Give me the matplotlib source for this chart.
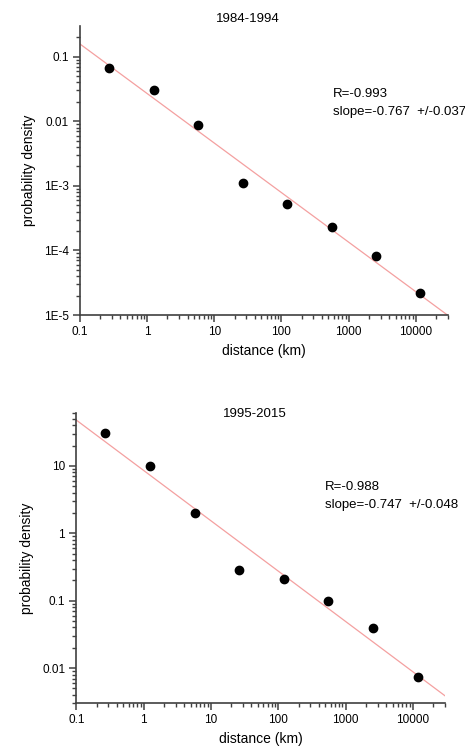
import numpy as np
import matplotlib
matplotlib.use('Agg')
import matplotlib.pyplot as plt
from matplotlib.ticker import FixedLocator, FixedFormatter, NullFormatter

plt.rcParams['font.family'] = ['Liberation Sans', 'DejaVu Sans']

# data
dist = [0.27, 1.26, 5.8, 26.5, 121, 557, 2570, 11750]
dens_a = [0.066, 0.031, 0.0087, 1.09e-3, 5.2e-4, 2.27e-4, 8.3e-5, 2.16e-5]
dens_b = [30.5, 9.8, 1.98, 0.29, 0.21, 0.099, 0.039, 0.0074]

# fitted lines: log10(y) = icpt + slope*log10(x)
slope_a, icpt_a = -0.767, -1.57
slope_b, icpt_b = -0.747, 0.933

titles = ['1984-1994', '1995-2015']
notes = [('R=-0.993', 'slope=-0.767  +/-0.037'),
         ('R=-0.988', 'slope=-0.747  +/-0.048')]

xticks = [0.1, 1, 10, 100, 1000, 10000]
xlabels = ['0.1', '1', '10', '100', '1000', '10000']
yticks_a = [1e-5, 1e-4, 1e-3, 0.01, 0.1]
ylabels_a = ['1E-5', '1E-4', '1E-3', '0.01', '0.1']
yticks_b = [0.01, 0.1, 1, 10]
ylabels_b = ['0.01', '0.1', '1', '10']


def minor_ticks(lo, hi):
    out = []
    for e in range(int(np.floor(np.log10(lo))), int(np.ceil(np.log10(hi))) + 1):
        for m in range(2, 10):
            v = m * 10.0 ** e
            if lo <= v <= hi:
                out.append(v)
    return out


fig = plt.figure(figsize=(4.65, 7.49), dpi=100)
axes = [fig.add_axes([0.172, 0.5794, 0.791, 0.386]),
        fig.add_axes([0.164, 0.061, 0.793, 0.387])]

spine_col = '#404040'
sets = [(dens_a, slope_a, icpt_a, (1e-5, 0.3), yticks_a, ylabels_a),
        (dens_b, slope_b, icpt_b, (0.003, 60), yticks_b, ylabels_b)]

for ax, (dens, sl, ic, ylim, yt, yl) in zip(axes, sets):
    ax.set_xscale('log')
    ax.set_yscale('log')
    xl = (0.1, 30000)
    xf = np.array(xl)
    ax.plot(xf, 10 ** (ic + sl * np.log10(xf)), color='#f4a0a0', lw=0.9, zorder=1)
    ax.plot(dist, dens, 'o', color='black', ms=6, zorder=2)
    ax.set_xlim(*xl)
    ax.set_ylim(*ylim)
    for s in ['top', 'right']:
        ax.spines[s].set_visible(False)
    for s in ['left', 'bottom']:
        ax.spines[s].set_color(spine_col)
        ax.spines[s].set_linewidth(1.2)
    ax.xaxis.set_major_locator(FixedLocator(xticks))
    ax.xaxis.set_major_formatter(FixedFormatter(xlabels))
    ax.yaxis.set_major_locator(FixedLocator(yt))
    ax.yaxis.set_major_formatter(FixedFormatter(yl))
    ax.xaxis.set_minor_locator(FixedLocator(minor_ticks(*xl)))
    ax.yaxis.set_minor_locator(FixedLocator(minor_ticks(*ylim)))
    ax.xaxis.set_minor_formatter(NullFormatter())
    ax.yaxis.set_minor_formatter(NullFormatter())
    ax.tick_params(which='major', direction='out', length=5, width=1.1, color=spine_col,
                   labelsize=8.5, pad=3)
    ax.tick_params(which='minor', direction='out', length=3, width=1.0, color=spine_col)
    ax.set_xlabel('distance (km)', fontsize=10, labelpad=4)
    ax.set_ylabel('probability density', fontsize=10, labelpad=6)

# titles and annotations in pixel positions of the figure
W, H = 465, 749
fig.text(248 / W, 1 - 19 / H, titles[0], ha='center', va='center', fontsize=9.5)
fig.text(255 / W, 1 - 414 / H, titles[1], ha='center', va='center', fontsize=9.5)
fig.text(333 / W, 1 - 94 / H, notes[0][0], ha='left', va='center', fontsize=9.5)
fig.text(333 / W, 1 - 112 / H, notes[0][1], ha='left', va='center', fontsize=9.5)
fig.text(325 / W, 1 - 487 / H, notes[1][0], ha='left', va='center', fontsize=9.5)
fig.text(325 / W, 1 - 505 / H, notes[1][1], ha='left', va='center', fontsize=9.5)

fig.savefig('out.png', dpi=100)
